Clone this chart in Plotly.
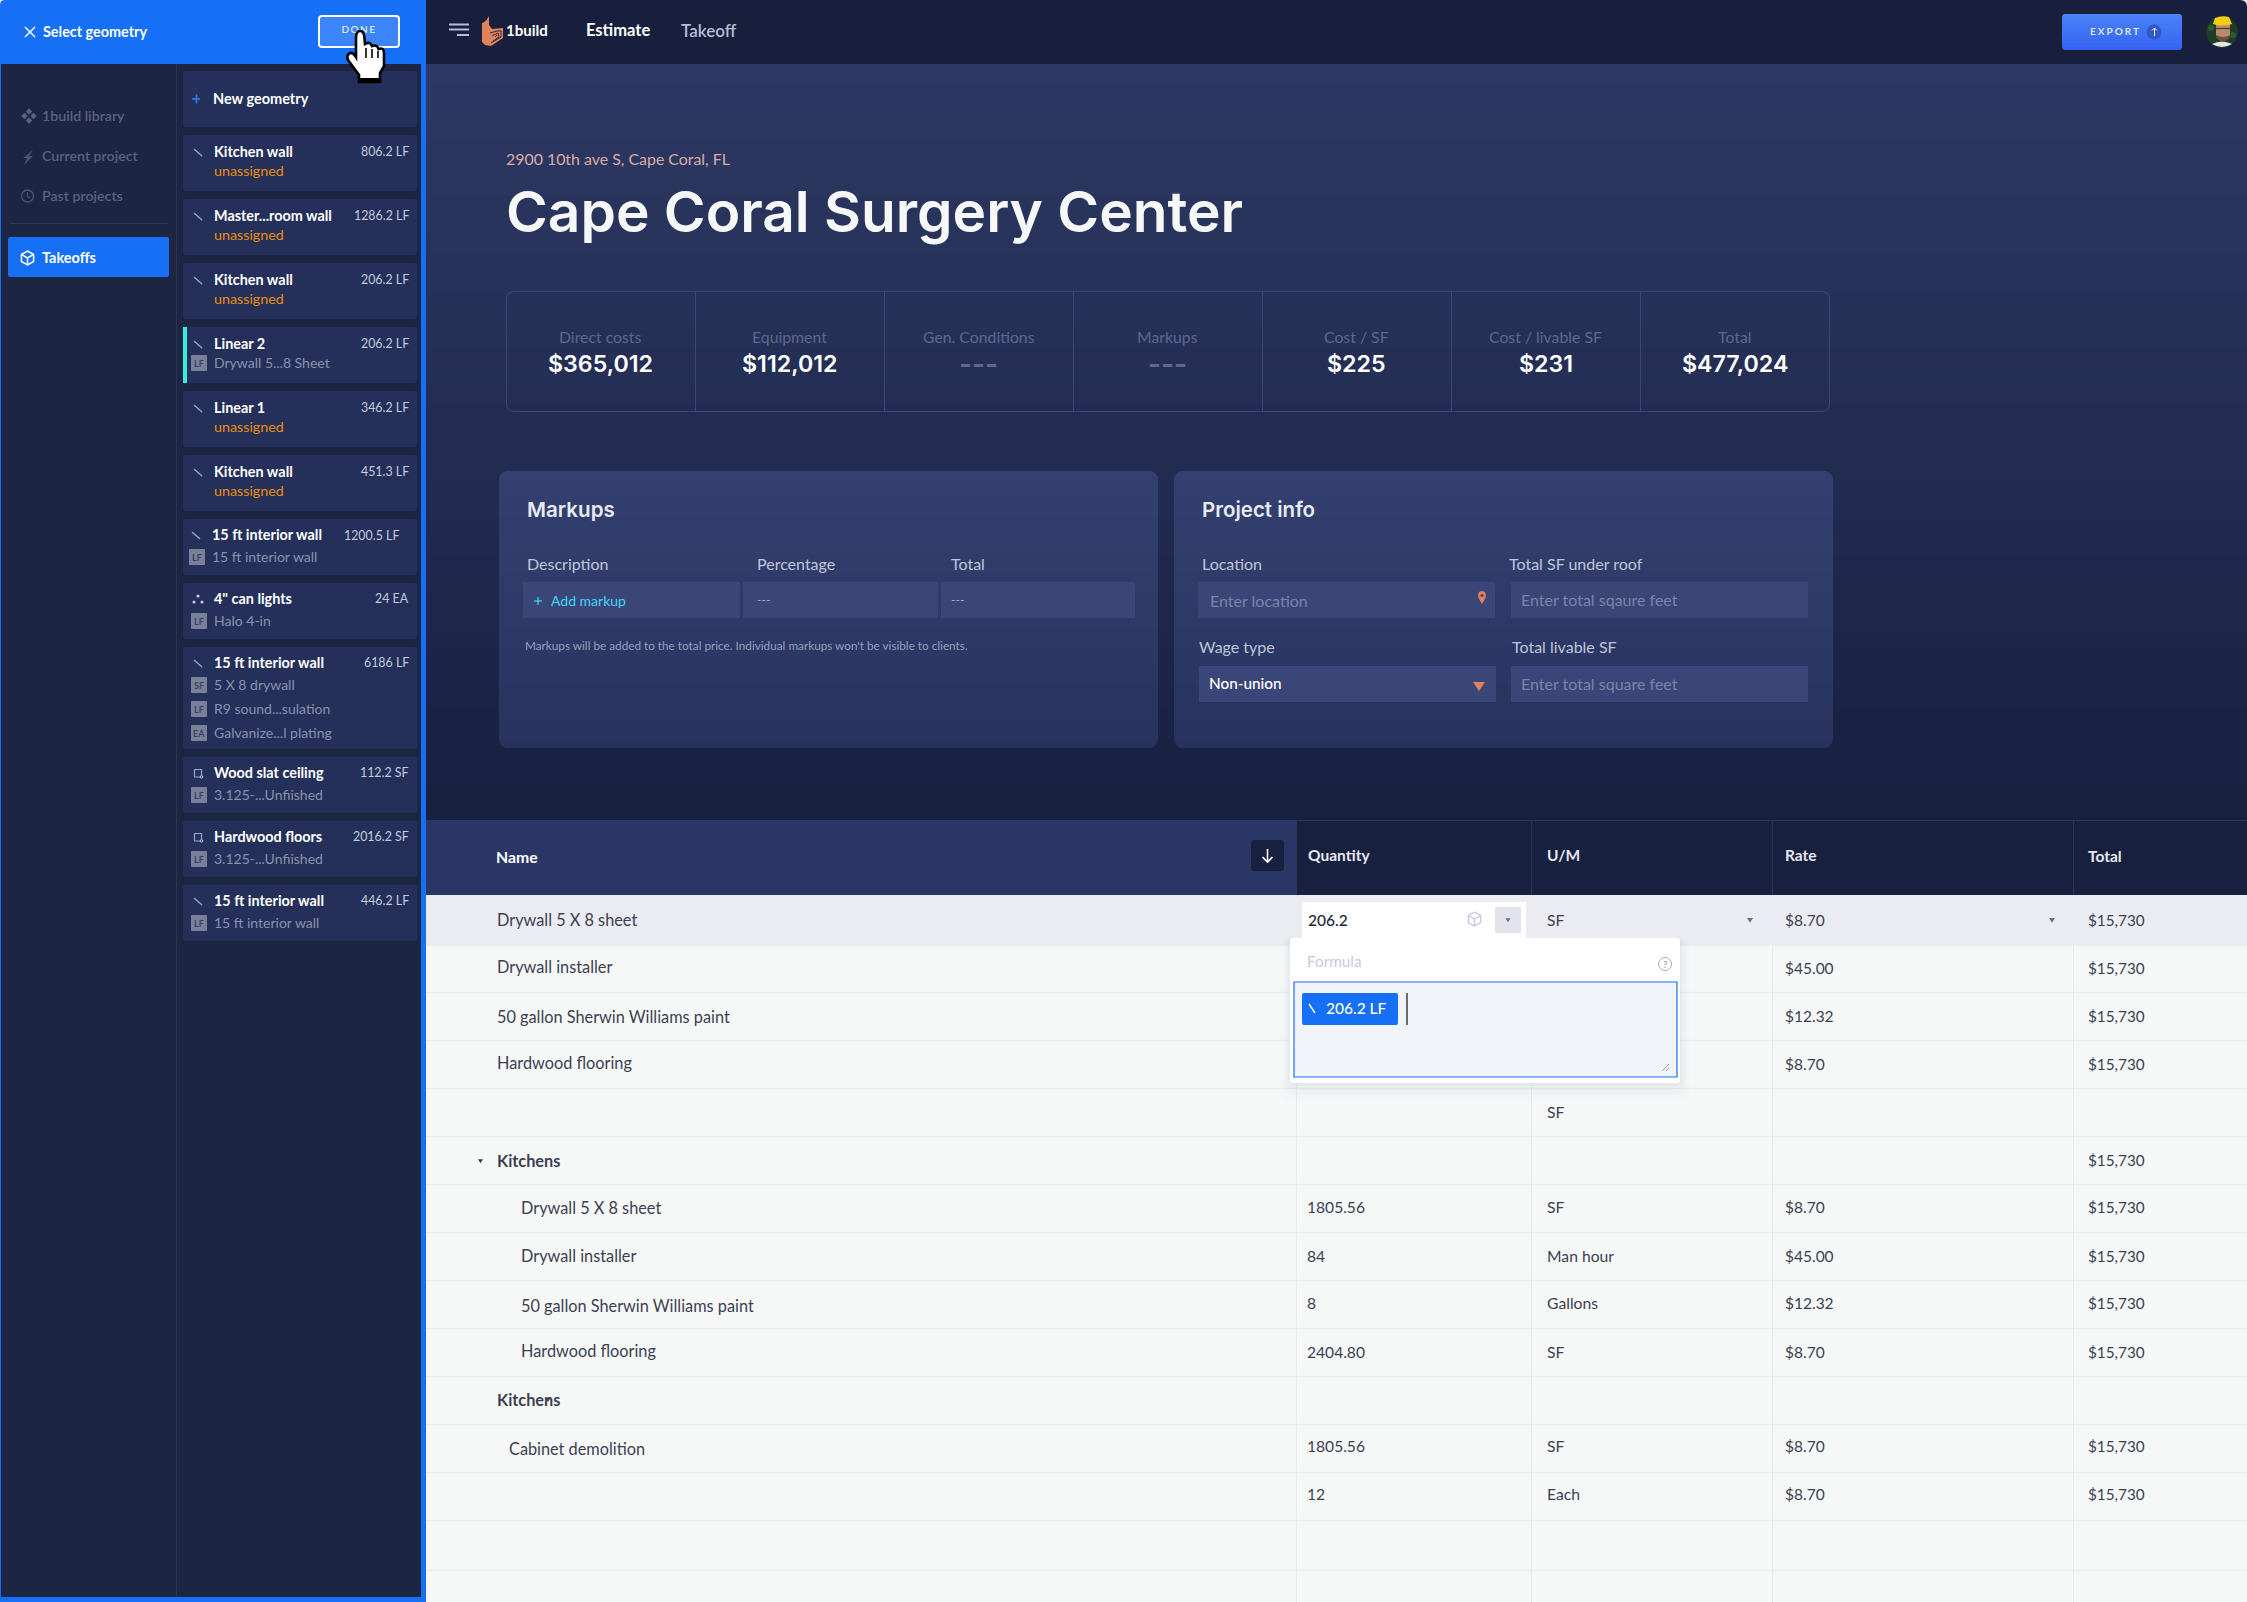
import plotly.graph_objects as go

# ---------- content ----------
nav_items = ["1build library", "Current project", "Past projects"]
geometry_names = ["Kitchen wall", "Master...room wall", "Kitchen wall", "Linear 2", "Linear 1", "Kitchen wall",
                  "15 ft interior wall", "4\" can lights", "15 ft interior wall", "Wood slat ceiling",
                  "Hardwood floors", "15 ft interior wall"]
geometry_amounts = ["806.2 LF", "1286.2 LF", "206.2 LF", "206.2 LF", "346.2 LF", "451.3 LF",
                    "1200.5 LF", "24 EA", "6186 LF", "112.2 SF", "2016.2 SF", "446.2 LF"]
geometry_kinds = ["line", "line", "line", "line", "line", "line", "line", "dots", "line", "area", "area", "line"]
geometry_links = [[], [], [], [("LF", "Drywall 5...8 Sheet")], [], [],
                  [("LF", "15 ft interior wall")], [("LF", "Halo 4-in")],
                  [("SF", "5 X 8 drywall"), ("LF", "R9 sound...sulation"), ("EA", "Galvanize...l plating")],
                  [("LF", "3.125-...Unfiished")], [("LF", "3.125-...Unfiished")], [("LF", "15 ft interior wall")]]
stat_labels = ["Direct costs", "Equipment", "Gen. Conditions", "Markups", "Cost / SF", "Cost / livable SF", "Total"]
stat_values = ["$365,012", "$112,012", "---", "---", "$225", "$231", "$477,024"]
table_headers = ["Quantity", "U/M", "Rate", "Total"]
item_names = ["Drywall 5 X 8 sheet", "Drywall installer", "50 gallon Sherwin Williams paint", "Hardwood flooring", "",
              "Kitchens", "Drywall 5 X 8 sheet", "Drywall installer", "50 gallon Sherwin Williams paint",
              "Hardwood flooring", "Kitchens", "Cabinet demolition", ""]
item_qty = ["206.2", "", "", "", "", "", "1805.56", "84", "8", "2404.80", "", "1805.56", "12"]
item_um = ["SF", "", "", "", "SF", "", "SF", "Man hour", "Gallons", "SF", "", "SF", "Each"]
item_rate = ["$8.70", "$45.00", "$12.32", "$8.70", "", "", "$8.70", "$45.00", "$12.32", "$8.70", "", "$8.70", "$8.70"]
item_total = ["$15,730", "$15,730", "$15,730", "$15,730", "", "$15,730", "$15,730", "$15,730", "$15,730", "$15,730",
              "", "$15,730", "$15,730"]

# ---------- layout ----------
W, H = 2247, 1602
BODY = "Lato"
HEAD = "Inter"
shapes, notes = [], []


def rpath(x0, y0, x1, y1, r):
    return (f"M{x0+r},{y0} L{x1-r},{y0} Q{x1},{y0} {x1},{y0+r} L{x1},{y1-r} Q{x1},{y1} {x1-r},{y1} "
            f"L{x0+r},{y1} Q{x0},{y1} {x0},{y1-r} L{x0},{y0+r} Q{x0},{y0} {x0+r},{y0} Z")


def box(x0, y0, x1, y1, fill="rgba(0,0,0,0)", line=None, lw=1, r=0, layer="below"):
    d = dict(xref="x", yref="y", layer=layer, fillcolor=fill,
             line=dict(color=line or "rgba(0,0,0,0)", width=lw if line else 0))
    if r:
        d.update(type="path", path=rpath(x0, y0, x1, y1, r))
    else:
        d.update(type="rect", x0=x0, y0=y0, x1=x1, y1=y1)
    shapes.append(d)


def path(p, fill="rgba(0,0,0,0)", line=None, lw=1, layer="below"):
    shapes.append(dict(type="path", path=p, xref="x", yref="y", layer=layer, fillcolor=fill,
                       line=dict(color=line or "rgba(0,0,0,0)", width=lw if line else 0)))


def seg(x0, y0, x1, y1, color, lw=1, layer="below"):
    shapes.append(dict(type="line", x0=x0, y0=y0, x1=x1, y1=y1, xref="x", yref="y", layer=layer,
                       line=dict(color=color, width=lw)))


def disc(cx, cy, r, fill="rgba(0,0,0,0)", line=None, lw=1):
    shapes.append(dict(type="circle", x0=cx-r, y0=cy-r, x1=cx+r, y1=cy+r, xref="x", yref="y", layer="below",
                       fillcolor=fill, line=dict(color=line or "rgba(0,0,0,0)", width=lw if line else 0)))


def mix(a, b, t):
    ca = [int(a[i:i+2], 16) for i in (1, 3, 5)]
    cb = [int(b[i:i+2], 16) for i in (1, 3, 5)]
    return "#%02x%02x%02x" % tuple(round(p + (q - p) * t) for p, q in zip(ca, cb))


def grad(x0, y0, x1, y1, c0, c1, n, r=0):
    """vertical gradient of whole-pixel bands; each overlaps the next so no seam shows"""
    edges = list(range(y0, y0 + r)) + [round(y0 + r + (y1 - y0 - 2 * r) * i / n) for i in range(n)] + \
        list(range(y1 - r, y1 + 1))
    pairs = list(zip(edges[:-1], edges[1:]))
    for k, (a, b) in enumerate(pairs):
        mid = (a + b) / 2
        dy = max(y0 + r - mid, mid - (y1 - r), 0)
        ins = r - (max(r * r - dy * dy, 0)) ** .5 if r else 0
        over = 1 if k < len(pairs) - 1 and (b < y1 - r) else 0
        box(x0 + ins, a, x1 - ins, b + over, fill=mix(c0, c1, (mid - y0) / (y1 - y0)))


def txt(s, x, y, size=13, color="#ffffff", weight=400, anchor="left", font=BODY):
    if s == "":
        return
    notes.append(dict(text=s, x=x, y=y - 1, xref="x", yref="y", xanchor=anchor, yanchor="middle", showarrow=False,
                      borderpad=0, borderwidth=0, font=dict(family=font, size=size, color=color, weight=weight)))


def caret(cx, cy, color="#6b7088", s=3):
    path(f"M{cx-s},{cy-s*.7} L{cx+s},{cy-s*.7} L{cx},{cy+s*.9} Z", fill=color)


def cube(cx, cy, s, color, lw=1.4):
    path(f"M{cx},{cy-s} L{cx+s*.87},{cy-s/2} L{cx+s*.87},{cy+s/2} L{cx},{cy+s} L{cx-s*.87},{cy+s/2} "
         f"L{cx-s*.87},{cy-s/2} Z", line=color, lw=lw)
    path(f"M{cx-s*.87},{cy-s/2} L{cx},{cy} L{cx+s*.87},{cy-s/2} M{cx},{cy} L{cx},{cy+s}", line=color, lw=lw)


# page backgrounds
box(0, 0, W, H, fill="#f6f8f8")
box(426, 0, W, 64, fill="#171f3d")
grad(426, 64, W, 820, "#2d3964", "#182040", 40)
# header rule and table header
box(426, 820, W, 895, fill="#182040")
box(426, 820, 1296, 895, fill="#2a3766")
seg(426, 820.5, W, 820.5, "#2b3768", 1)
for xv in (1296.5, 1531.5, 1772.5, 2073.5):
    seg(xv, 820, xv, 895, "#2a3358", 1)

# table
ROW_TOP = [895, 945, 992, 1040, 1088, 1136, 1184, 1232, 1280, 1328, 1376, 1424, 1472, 1520, 1570, 1602]
box(426, 895, W, 945, fill="#ebecf2")
for yv in ROW_TOP[1:-1]:
    seg(426, yv + .5, W, yv + .5, "#e8eef2", 1.5)
for xv in (1296.5, 1531.5, 1772.5, 2073.5):
    seg(xv, 895, xv, H, "#e6ecf0", 1)

NAME_Y = [920, 967, 1017, 1063, 0, 1161, 1208, 1256, 1306, 1351, 1400, 1449, 0]
CELL_Y = [921, 969, 1017, 1065, 1113, 1161, 1208, 1257, 1304, 1353, 1400, 1447, 1495]
NAME_X = [497, 497, 497, 497, 497, 497, 521, 521, 521, 521, 497, 509, 497]
INK = "#3b3f52"
for i, nm in enumerate(item_names):
    bold = nm == "Kitchens"
    txt(nm, NAME_X[i], NAME_Y[i], 16.3, INK, 700 if bold else 400)
    if i > 0:
        txt(item_qty[i], 1307, CELL_Y[i], 15.6, INK)
    txt(item_um[i], 1547, CELL_Y[i], 15.7, INK)
    txt(item_rate[i], 1785, CELL_Y[i], 15.5, INK)
    txt(item_total[i], 2088, CELL_Y[i], 15.3, INK)
caret(480.5, 1161, "#3b3f52", 2.6)
caret(548, 1400, "#3b3f52", 2.2)
caret(1750, 920)
caret(2052, 920)

# table header text
txt("Name", 496, 857, 15.8, "#ffffff", 700)
for s, xv, yv in zip(table_headers, (1308, 1547, 1785, 2088), (856, 856, 856, 857)):
    txt(s, xv, yv, 15.5, "#e6e8f2", 700)
box(1251, 840, 1284, 871, fill="#182040", r=3)
seg(1267.5, 849, 1267.5, 862, "#ffffff", 1.6)
path("M1262.5,857 L1267.5,862 L1272.5,857", line="#ffffff", lw=1.6)

# edited quantity cell
box(1302, 902, 1526, 945, fill="#ffffff")
box(1495, 907, 1521, 933, fill="#e3e3ee")
caret(1508, 920, "#6b7088", 2.6)
cube(1474.5, 919, 7, "#c9c8e2", 1.4)
txt(item_qty[0], 1308, 921, 15.5, "#20253a", 500)

# formula popup with soft shadow
for grow, alpha in ((18, .012), (12, .016), (7, .02), (3, .024)):
    box(1290 - grow / 2, 938, 1680 + grow / 2, 1083 + grow, fill=f"rgba(30,40,80,{alpha})", r=8)
box(1290, 938, 1680, 1083, fill="#ffffff", r=3)
txt("Formula", 1307, 962, 15.3, "#c9c8e2")
disc(1665, 964, 6.5, line="#a9abb8", lw=1)
txt("?", 1665, 965, 9.5, "#8d90a0", 400, "center")
box(1294, 982, 1677, 1077, fill="#f0f3f8", line="#1570f5", lw=1.2)
box(1302, 993, 1398, 1025, fill="#1570f5", r=2)
seg(1309, 1004, 1315, 1013, "#ffffff", 1.4)
txt("206.2 LF", 1326, 1009, 15.5, "#ffffff", 500)
seg(1407, 993, 1407, 1025, "#111111", 1.2)
seg(1662, 1071, 1669, 1064, "#a0a4b0", 1)
seg(1666, 1071, 1669, 1068, "#a0a4b0", 1)

# top bar
seg(449, 24.5, 469, 24.5, "#b9bcd9", 2)
seg(449, 29.5, 469, 29.5, "#b9bcd9", 2)
seg(457, 35, 469, 35, "#b9bcd9", 2)
# logo: stem, stacked bowl and its cut lines
path("M482,23 Q486,22 489,16 L489,25 L492,29 L503,28 L503,38 L491,46 L485,45 L482,42 Z", fill="#e2825c")
path("M490,33 L497,31 L501,31 L501,37 L491,43 M492,36 L498,33 L499,37 L493,41 M495,37 L497,35", line="#171f3d", lw=.9)
txt("1build", 506, 31, 15, "#ffffff", 700)
txt("Estimate", 586, 31, 16.5, "#ffffff", 700)
txt("Takeoff", 681, 31, 17, "#b9bdd8", 600)
grad(2062, 14, 2182, 50, "#4a82f8", "#3564f0", 8, r=3)
txt("EXPORT", 2115, 32, 10, "#dfe6ff", 700, "center")
disc(2154, 32, 7.5, fill="#3158c4")
seg(2154.5, 36, 2154.5, 28.5, "#ffffff", 1)
path("M2152,30.5 L2154.5,28 L2157,30.5", line="#ffffff", lw=1)
# avatar: foliage, shirt, face, beard, glasses, hard hat
disc(2222, 32, 16, fill="#1d3d26")
disc(2211, 28, 3, fill="#2f5a36")
disc(2233, 35, 3, fill="#2f5a36")
path("M2212,44 Q2222,39 2232,44 Q2222,50 2212,44 Z", fill="#e6e6e6")
path("M2216,24 L2230,24 L2230,36 Q2223,46 2216,36 Z", fill="#b98a6c")
path("M2216,35 Q2223,39 2230,35 L2230,37 Q2223,46 2216,37 Z", fill="#6e4e3a")
seg(2216, 28.5, 2230, 28.5, "#44413e", 1.2)
path("M2213,24 L2215,18 Q2222,15 2229,17 L2232,24 Q2222,27 2213,24 Z", fill="#f4cc16")

# left panel
box(0, 0, 426, H, fill="#1570f5")
box(1, 64, 421, 1597, fill="#1c2542")
seg(176.5, 64, 176.5, 1597, "#2a3358", 1)
seg(10, 223.5, 168, 223.5, "#2e375c", 1)
seg(25, 27, 35, 37, "#ffffff", 1.4)
seg(35, 27, 25, 37, "#ffffff", 1.4)
txt("Select geometry", 43, 32, 14.4, "#ffffff", 700)
box(319, 16, 399, 47, fill="#3b85f9", line="#ffffff", lw=2, r=3)

# window corners
path("M0,0 L5,0 Q0,0 0,5 Z", fill="#f2f4f6")
path(f"M{W},0 L{W-7},0 Q{W},0 {W},7 Z", fill="#f2f4f6")

# side navigation
for s, yv in zip(nav_items, (116, 156, 196)):
    txt(s, 42, yv, 14.2, "#5a6280", 600)
for dx, dy in ((0, -4.5), (-4.5, 0), (4.5, 0), (0, 4.5)):
    path(f"M{29+dx},{116+dy-3.2} L{29+dx+3.2},{116+dy} L{29+dx},{116+dy+3.2} L{29+dx-3.2},{116+dy} Z", fill="#5a6280")
path("M33,150 L23,158 L27,158 L24,165 L33,156 L29,156 Z", fill="#4a5272")
disc(27.5, 196, 6, line="#4a5272", lw=1.4)
path("M27.5,192.5 L27.5,196.5 L30,198", line="#4a5272", lw=1.2)
box(8, 237, 169, 277, fill="#1570f5", r=2)
cube(27.5, 258, 7, "#ffffff", 1.5)
txt("Takeoffs", 42, 258, 14.5, "#ffffff", 700)

# geometry cards
CARD_Y = [(135, 191), (199, 255), (263, 319), (327, 383), (391, 447), (455, 511), (519, 575), (583, 639),
          (647, 749), (757, 813), (821, 877), (885, 941)]
CARD = "#24305a"
box(183, 71, 417, 127, fill=CARD, r=2)
seg(192, 99, 200, 99, "#2f80f5", 1.6)
seg(196.5, 94.5, 196.5, 103.5, "#2f80f5", 1.6)
txt("New geometry", 213, 99, 14.5, "#ffffff", 700)
for i, (top, bot) in enumerate(CARD_Y):
    box(183, top, 417, bot, fill=CARD, r=2)
    links = geometry_links[i]
    shift = -2 if i == 6 else 0
    ty = top + (16 if i >= 6 else 17)
    txt(geometry_names[i], 214 + shift, ty, 14.4, "#ffffff", 700)
    txt(geometry_amounts[i], 399 if i == 6 else 409, ty + 1 if i == 6 else ty, 12.4, "#c5cade", 400, "right")
    kx = 198 + shift
    if geometry_kinds[i] == "line":
        seg(kx - 4, ty - 3, kx + 4, ty + 4, "#9aa2bd", 1.5)
    elif geometry_kinds[i] == "dots":
        for dx, dy in ((0, -3), (-4, 3), (4, 3)):
            disc(kx + dx, ty + dy, 1.6, fill="#c5cade")
    else:
        box(kx - 3.5, ty - 3.5, kx + 3.5, ty + 4, line="#9aa2bd", lw=1.2)
        disc(kx + 3.5, ty + 4, 1.3, fill=CARD, line="#c5cade", lw=1)
    if i == 3:
        box(183, top, 187, bot, fill="#38ebdc")
    if not links:
        txt("unassigned", 214, top + 36, 14.3, "#e88c12", 400)
    for j, (u, s) in enumerate(links):
        ly = top + 36 if i == 3 else top + 38 + 24 * j
        box(191 + shift, ly - 8, 207 + shift, ly + 8, fill="#7a8098", r=1)
        txt(u, 199 + shift, ly + 1, 9, "#3a4262", 700, "center")
        txt(s, 214 + shift, ly, 14, "#8a91ad", 400)

# project heading
txt("2900 10th ave S, Cape Coral, FL", 506, 159, 15.9, "#d9ada4", 400)
txt("Cape Coral Surgery Center", 506, 212, 56.8, "#f6f8f8", 600, font=HEAD)

# stats strip
box(506.5, 291.5, 1829.5, 411.5, fill="rgba(0,0,0,0)", line="#3b4678", lw=1, r=8)
STAT_X = [506, 695, 884, 1073, 1262, 1451, 1640, 1829]
for xv in STAT_X[1:-1]:
    seg(xv + .5, 292, xv + .5, 411, "#3b4678", 1)
for i, (lab, val) in enumerate(zip(stat_labels, stat_values)):
    xc = (STAT_X[i] + STAT_X[i + 1]) / 2
    txt(lab, xc, 337, 15.8, "#5d6790", 400, "center")
    dash = val == "---"
    txt(val, xc, 365, 28 if dash else 23.2, "#5d6790" if dash else "#ffffff", 600, "center", HEAD)

# markups and project panels
grad(499, 471, 1158, 748, "#344070", "#27335e", 14, r=9)
grad(1174, 471, 1833, 748, "#344070", "#27335e", 14, r=9)
txt("Markups", 527, 510, 20.6, "#e8eaf4", 600, font=HEAD)
txt("Project info", 1202, 510, 20.5, "#e8eaf4", 600, font=HEAD)
FIELD = "#3a4677"
for s, xv, yv in (("Description", 527, 564), ("Percentage", 757, 564), ("Total", 951, 564), ("Location", 1202, 564),
                  ("Total SF under roof", 1509, 564), ("Wage type", 1199, 647), ("Total livable SF", 1512, 647)):
    txt(s, xv, yv, 16, "#c0c5da")
for x0, x1, y0, y1 in ((523, 740, 582, 618), (743, 938, 582, 618), (941, 1135, 582, 618), (1198, 1495, 582, 618),
                       (1511, 1808, 582, 618), (1199, 1496, 666, 702), (1511, 1808, 666, 702)):
    box(x0, y0, x1, y1, fill=FIELD)
seg(534, 601, 542, 601, "#40d8f5", 1.2)
seg(538, 597, 538, 605, "#40d8f5", 1.2)
txt("Add markup", 551, 601, 14, "#40d8f5", 400)
txt("---", 757, 600, 12, "#aab0ca")
txt("---", 951, 600, 12, "#aab0ca")
txt("Enter location", 1210, 601, 16, "#7a84a8")
txt("Enter total sqaure feet", 1521, 600, 16, "#7a84a8")
txt("Enter total square feet", 1521, 684, 16, "#7a84a8")
txt("Non-union", 1209, 684, 15.3, "#ffffff", 500)
path("M1473,682 L1485,682 L1479,691 Z", fill="#e67f58")
path("M1482,604 L1478.5,598 Q1477,591 1482,591 Q1487,591 1485.5,598 Z", fill="#e67f58")
disc(1482, 595.5, 1.5, fill="#3a4677")
txt("Markups will be added to the total price. Individual markups won't be visible to clients.", 525, 646, 11.75, "#98a0bc")

# DONE drawn under the pointer
done = go.Scatter(x=[359], y=[30], mode="text", text=["DONE"], hoverinfo="skip", showlegend=False, cliponaxis=False,
                  textfont=dict(family=BODY, size=10, color="#dfe9ff", weight=600), textposition="middle center")

# pointer
HAND = ("M356,38 Q356,31 360,31 Q364,31 364.5,38 L365,44 Q370,41 372,46 Q377,44 378.5,49 Q384,47 384,53 L384,66 "
        "L380,73 L380,82 L359,82 L359,75 L348,60 Q346,55 350,53 Q353,52 356,57 Z")
path(HAND, fill="#ffffff", line="#000000", lw=2.6, layer="above")
for xv, y0v, y1v in ((366, 48, 58), (372, 49, 58), (378, 51, 58)):
    seg(xv, y0v, xv, y1v, "#000000", 1.6, "above")
box(359, 78, 380, 83, fill="#000000", layer="above")

fig = go.Figure(done)
fig.update_layout(width=W, height=H, margin=dict(l=0, r=0, t=0, b=0), paper_bgcolor="#f6f8f8", plot_bgcolor="#f6f8f8",
                  shapes=shapes, annotations=notes, showlegend=False,
                  xaxis=dict(range=[0, W], visible=False, fixedrange=True),
                  yaxis=dict(range=[H, 0], visible=False, fixedrange=True))
fix = """
document.body.style.margin='0';document.documentElement.style.overflow='hidden';
document.querySelectorAll('text').forEach(function(t){
 if(t.textContent==='EXPORT'){t.style.letterSpacing='2px';}
 if(t.textContent==='DONE'){t.style.letterSpacing='1.5px';}
});
"""
fig.write_html("out.html", config=dict(displayModeBar=False), post_script=fix)
